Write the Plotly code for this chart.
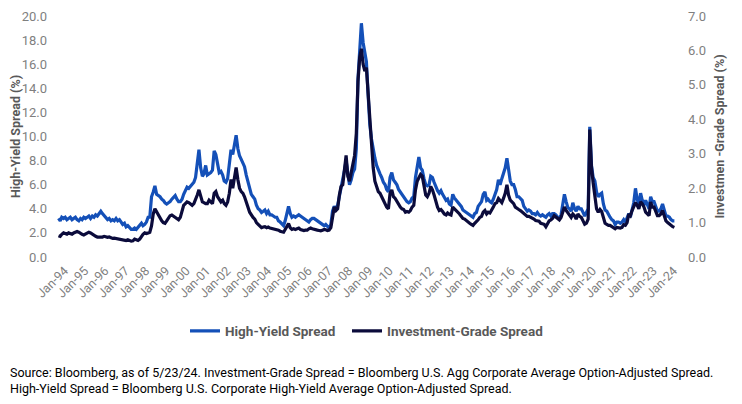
import pandas as pd
import plotly.graph_objects as go

# monthly readings, Jan-94 .. May-24
HY_SPREAD = [
    3.2, 3.0, 3.3, 3.2, 3.3, 3.1, 3.2, 3.3, 3.1, 3.2, 3.3, 3.1,   # 1994
    3.0, 3.2, 3.1, 3.3, 3.2, 3.3, 3.4, 3.2, 3.4, 3.3, 3.5, 3.4,   # 1995
    3.6, 3.8, 3.6, 3.4, 3.3, 3.1, 3.2, 3.0, 3.1, 3.0, 3.2, 3.0,   # 1996
    3.1, 2.9, 2.7, 2.8, 2.5, 2.6, 2.4, 2.3, 2.3, 2.4, 2.3, 2.5,   # 1997
    2.6, 2.8, 2.6, 2.7, 2.9, 3.3, 3.3, 5.0, 5.4, 5.9, 5.2, 5.1,   # 1998
    5.0, 4.8, 4.7, 4.5, 4.4, 4.5, 4.6, 4.8, 5.0, 5.1, 4.8, 4.6,   # 1999
    4.6, 4.8, 5.2, 5.6, 5.8, 5.7, 5.9, 6.0, 6.2, 6.6, 7.8, 8.9,   # 2000
    7.4, 6.7, 6.9, 7.6, 6.8, 6.9, 7.0, 7.2, 8.8, 8.5, 7.6, 7.0,   # 2001
    7.1, 6.8, 6.3, 6.2, 6.5, 7.8, 8.9, 8.5, 9.3, 10.1, 9.0, 8.4,  # 2002
    8.1, 7.8, 7.5, 6.8, 6.3, 5.8, 5.2, 5.0, 4.8, 4.3, 4.0, 3.9,   # 2003
    3.7, 3.8, 3.9, 3.6, 3.8, 3.5, 3.5, 3.4, 3.3, 3.3, 3.0, 2.9,   # 2004
    2.7, 2.6, 3.0, 3.5, 4.2, 3.6, 3.3, 3.4, 3.3, 3.4, 3.5, 3.4,   # 2005
    3.3, 3.2, 3.1, 3.0, 2.9, 3.1, 3.2, 3.2, 3.1, 3.0, 2.9, 2.8,   # 2006
    2.7, 2.6, 2.7, 2.5, 2.4, 2.7, 3.8, 4.2, 4.0, 4.3, 5.0, 5.8,   # 2007
    6.3, 7.2, 8.0, 6.9, 6.0, 6.4, 7.0, 7.3, 9.0, 14.8, 17.5, 19.4,  # 2008
    17.8, 16.9, 16.2, 13.5, 11.0, 9.8, 8.8, 8.2, 7.6, 7.2, 6.9, 6.6,  # 2009
    6.2, 6.0, 5.6, 5.4, 6.6, 7.0, 6.4, 6.2, 6.0, 5.6, 5.4, 5.2,   # 2010
    5.0, 4.7, 4.6, 4.5, 4.6, 4.9, 5.0, 6.6, 7.4, 8.3, 7.4, 7.2,   # 2011
    6.5, 6.0, 5.9, 6.0, 6.7, 6.6, 6.2, 5.8, 5.5, 5.3, 5.5, 5.2,   # 2012
    4.9, 4.7, 4.8, 4.4, 4.3, 5.2, 4.9, 4.7, 4.6, 4.4, 4.2, 3.9,   # 2013
    3.8, 3.7, 3.6, 3.5, 3.4, 3.3, 3.6, 3.7, 4.2, 4.4, 4.6, 5.2,   # 2014
    5.4, 4.7, 4.8, 4.6, 4.5, 4.8, 5.2, 5.6, 6.4, 6.0, 6.5, 6.9,   # 2015
    7.4, 8.2, 7.2, 6.3, 6.0, 6.0, 5.6, 5.0, 5.0, 4.8, 4.7, 4.2,   # 2016
    4.0, 3.8, 3.9, 3.8, 3.6, 3.6, 3.5, 3.7, 3.5, 3.4, 3.5, 3.4,   # 2017
    3.3, 3.5, 3.6, 3.4, 3.6, 3.6, 3.5, 3.3, 3.2, 3.5, 4.3, 5.2,   # 2018
    4.6, 4.1, 4.0, 3.8, 4.5, 4.0, 3.8, 4.2, 4.0, 4.0, 3.7, 3.4,   # 2019
    3.7, 4.0, 10.8, 7.6, 6.6, 6.3, 5.4, 5.0, 5.2, 5.3, 4.4, 3.9,  # 2020
    3.8, 3.5, 3.3, 3.1, 3.0, 2.7, 2.9, 2.9, 2.8, 2.9, 3.1, 2.9,   # 2021
    3.3, 3.6, 3.3, 3.8, 4.5, 5.7, 4.8, 4.4, 5.3, 4.7, 4.3, 4.7,   # 2022
    4.3, 4.0, 5.0, 4.6, 4.6, 4.1, 3.8, 3.8, 4.0, 4.4, 3.8, 3.4,   # 2023
    3.4, 3.3, 3.1, 3.0, 3.0,                                      # 2024
]

IG_SPREAD = [
    0.62, 0.60, 0.66, 0.70, 0.68, 0.66, 0.70, 0.68, 0.66, 0.70, 0.72, 0.74,  # 1994
    0.72, 0.68, 0.66, 0.64, 0.66, 0.70, 0.72, 0.70, 0.66, 0.62, 0.60, 0.58,  # 1995
    0.58, 0.56, 0.58, 0.60, 0.58, 0.57, 0.58, 0.56, 0.54, 0.55, 0.54, 0.52,  # 1996
    0.52, 0.50, 0.50, 0.49, 0.48, 0.50, 0.48, 0.46, 0.47, 0.52, 0.50, 0.48,  # 1997
    0.52, 0.62, 0.66, 0.70, 0.68, 0.70, 0.72, 0.90, 1.25, 1.40, 1.30, 1.20,  # 1998
    1.10, 1.05, 1.00, 0.98, 1.05, 1.15, 1.20, 1.22, 1.18, 1.15, 1.10, 1.08,  # 1999
    1.15, 1.35, 1.50, 1.55, 1.60, 1.58, 1.55, 1.50, 1.55, 1.65, 1.80, 1.95,  # 2000
    1.75, 1.60, 1.58, 1.55, 1.55, 1.65, 1.60, 1.55, 1.85, 1.90, 1.75, 1.65,  # 2001
    1.60, 1.65, 1.55, 1.50, 1.60, 1.85, 2.25, 2.00, 2.30, 2.60, 2.25, 2.00,  # 2002
    1.90, 1.85, 1.75, 1.55, 1.45, 1.30, 1.20, 1.15, 1.10, 1.00, 0.95, 0.90,  # 2003
    0.85, 0.87, 0.88, 0.85, 0.87, 0.84, 0.83, 0.82, 0.80, 0.80, 0.78, 0.75,  # 2004
    0.73, 0.72, 0.80, 0.90, 0.97, 0.85, 0.80, 0.82, 0.80, 0.82, 0.84, 0.80,  # 2005
    0.78, 0.77, 0.78, 0.78, 0.82, 0.84, 0.82, 0.80, 0.80, 0.78, 0.77, 0.76,  # 2006
    0.78, 0.80, 0.79, 0.77, 0.78, 0.85, 1.15, 1.45, 1.35, 1.40, 1.80, 2.05,  # 2007
    2.10, 2.60, 2.95, 2.35, 2.20, 2.45, 2.70, 2.95, 3.60, 5.10, 5.80, 6.05,  # 2008
    5.60, 5.40, 5.50, 4.80, 3.80, 3.30, 2.60, 2.20, 2.05, 1.90, 1.85, 1.75,  # 2009
    1.62, 1.55, 1.45, 1.40, 1.85, 1.95, 1.75, 1.70, 1.60, 1.50, 1.45, 1.40,  # 2010
    1.38, 1.30, 1.32, 1.30, 1.35, 1.45, 1.50, 1.95, 2.20, 2.30, 2.40, 2.35,  # 2011
    2.10, 1.80, 1.75, 1.85, 2.05, 1.95, 1.80, 1.60, 1.45, 1.35, 1.38, 1.32,  # 2012
    1.25, 1.22, 1.28, 1.24, 1.22, 1.45, 1.40, 1.35, 1.32, 1.25, 1.18, 1.12,  # 2013
    1.10, 1.05, 1.00, 0.98, 0.95, 0.92, 0.98, 1.02, 1.08, 1.15, 1.18, 1.30,  # 2014
    1.35, 1.25, 1.30, 1.28, 1.35, 1.45, 1.55, 1.58, 1.70, 1.62, 1.58, 1.70,  # 2015
    1.85, 2.10, 1.80, 1.65, 1.60, 1.55, 1.45, 1.40, 1.38, 1.35, 1.30, 1.25,  # 2016
    1.22, 1.18, 1.18, 1.16, 1.12, 1.10, 1.06, 1.05, 1.04, 0.98, 0.97, 0.95,  # 2017
    0.88, 0.95, 1.05, 1.08, 1.12, 1.20, 1.15, 1.13, 1.08, 1.15, 1.30, 1.45,  # 2018
    1.35, 1.28, 1.25, 1.15, 1.25, 1.20, 1.10, 1.25, 1.18, 1.15, 1.05, 0.95,  # 2019
    0.98, 1.10, 3.70, 2.60, 2.15, 1.70, 1.40, 1.30, 1.38, 1.32, 1.10, 0.98,  # 2020
    0.95, 0.92, 0.92, 0.88, 0.86, 0.82, 0.86, 0.85, 0.84, 0.86, 0.94, 0.92,  # 2021
    1.00, 1.25, 1.20, 1.35, 1.45, 1.58, 1.50, 1.40, 1.60, 1.55, 1.45, 1.30,  # 2022
    1.25, 1.20, 1.60, 1.45, 1.45, 1.30, 1.20, 1.20, 1.25, 1.35, 1.15, 1.05,  # 2023
    1.00, 0.95, 0.90, 0.88, 0.86,                                            # 2024
]

DATES = pd.date_range("1994-01-01", periods=len(HY_SPREAD), freq="MS")

HY_COLOR = "#1450B8"
IG_COLOR = "#0B0B3B"
TICK_GREY = "#7F7F7F"
TITLE_GREY = "#595959"
FONT = "Roboto, sans-serif"

SOURCE = ("Source: Bloomberg, as of 5/23/24. Investment-Grade Spread = Bloomberg U.S. Agg "
          "Corporate Average Option-Adjusted Spread.<br>High-Yield Spread = Bloomberg U.S. "
          "Corporate High-Yield Average Option-Adjusted Spread.")

# page body adds an 8px margin, so the figure is a bit smaller than the window
W, H = 734, 396
L, R, T, B = 44, 60, 8, 147
PLOT_W = W - L - R
PLOT_H = H - T - B

fig = go.Figure()
fig.add_trace(go.Scatter(x=DATES, y=HY_SPREAD, name="High-Yield Spread", mode="lines",
                         line=dict(color=HY_COLOR, width=3.2), legend="legend"))
fig.add_trace(go.Scatter(x=DATES, y=IG_SPREAD, name="Investment-Grade Spread", mode="lines",
                         line=dict(color=IG_COLOR, width=3.2), yaxis="y2", legend="legend2"))

legend_font = dict(size=13.5, color=TITLE_GREY, weight="bold")
fig.update_layout(
    width=W, height=H,
    margin=dict(l=L, r=R, t=T, b=B),
    plot_bgcolor="white", paper_bgcolor="white",
    font=dict(family=FONT, size=13, color=TICK_GREY),
    xaxis=dict(range=["1993-09-06", "2024-09-15"], tickformat="%b-%y", dtick="M12",
               tick0="1994-01-01", tickangle=-45, showgrid=False, showline=False,
               zeroline=False, automargin=False, ticklabelshift=6, ticklabelstandoff=3,
               tickfont=dict(size=12.5, color=TICK_GREY)),
    yaxis=dict(range=[0, 20], dtick=2, tickformat=".1f", showgrid=False, zeroline=False,
               automargin=False, tickfont=dict(size=13), ticklabelstandoff=4,
               title=dict(text="<b>High-Yield Spread (%)</b>", standoff=2,
                          font=dict(size=12.5, color=TITLE_GREY))),
    yaxis2=dict(range=[0, 7], dtick=1, tickformat=".1f", overlaying="y", side="right",
                showgrid=False, zeroline=False, automargin=False, tickfont=dict(size=13),
                ticklabelstandoff=5,
                title=dict(text="<b>Investmen -Grade Spread (%)</b>", standoff=10,
                           font=dict(size=12.5, color=TITLE_GREY))),
    legend=dict(orientation="h", x=(177 - L) / PLOT_W, xanchor="left",
                y=(249 - 323) / PLOT_H, yanchor="middle", font=legend_font, itemwidth=30),
    legend2=dict(orientation="h", x=(339 - L) / PLOT_W, xanchor="left",
                 y=(249 - 323) / PLOT_H, yanchor="middle", font=legend_font, itemwidth=30),
    showlegend=True,
)

fig.add_annotation(text=SOURCE, xref="paper", yref="paper", x=-L / PLOT_W,
                   y=(249 - 355) / PLOT_H, xanchor="left", yanchor="top", align="left",
                   showarrow=False, font=dict(size=12.5, color="#000000", family=FONT))

fig.write_html("out.html")
